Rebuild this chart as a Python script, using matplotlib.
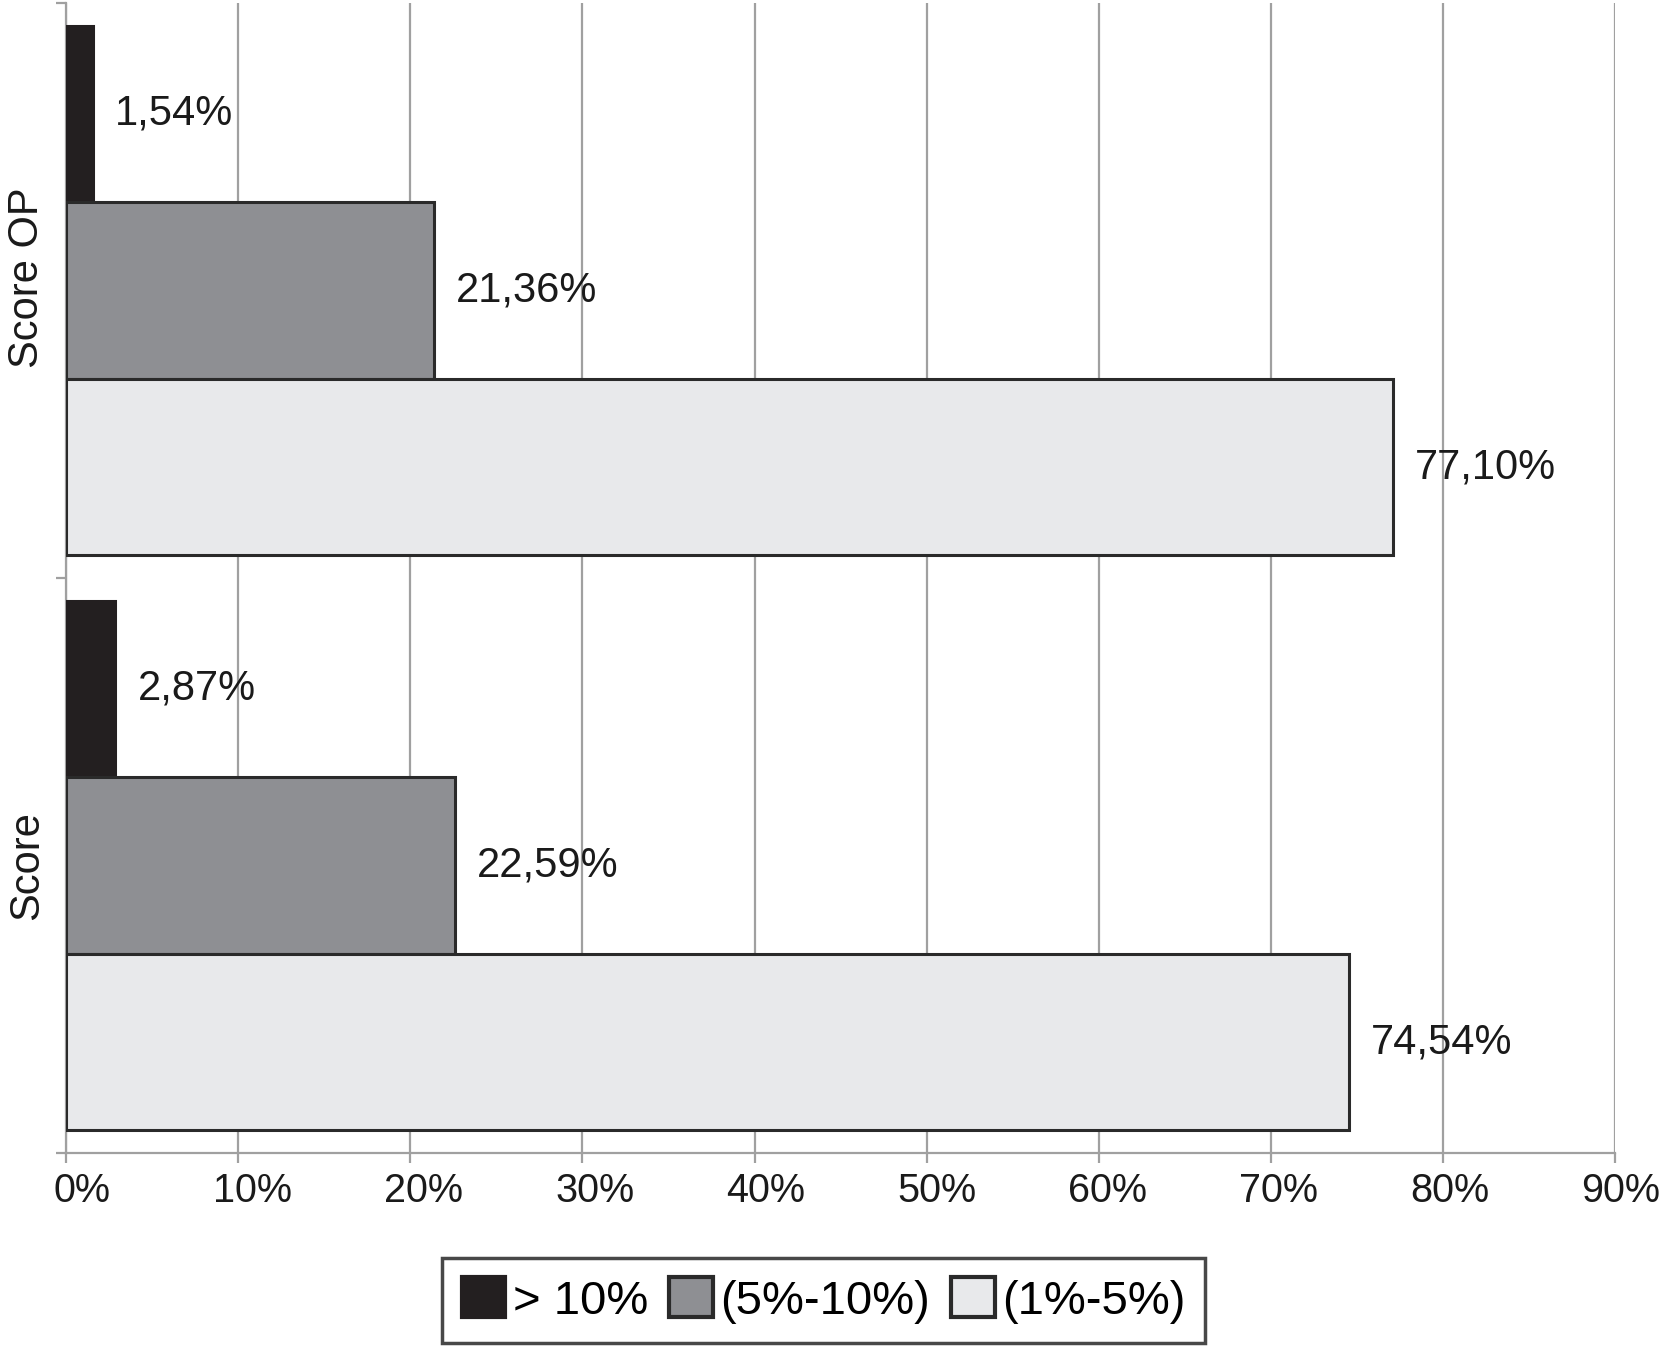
import matplotlib
matplotlib.use("Agg")
import matplotlib.pyplot as plt
import numpy as np
from matplotlib.patches import Patch
from matplotlib.transforms import ScaledTranslation

plt.rcParams['font.family'] = ['Liberation Sans', 'DejaVu Sans']

categories = ["Score", "Score OP"]
series_names = ["> 10%", "(5%-10%)", "(1%-5%)"]
values_gt10 = [2.87, 1.54]
values_5_10 = [22.59, 21.36]
values_1_5 = [74.54, 77.10]
x_ticks = [0, 10, 20, 30, 40, 50, 60, 70, 80, 90]
x_tick_labels = ["0%", "10%", "20%", "30%", "40%", "50%", "60%", "70%", "80%", "90%"]

series_values = [values_gt10, values_5_10, values_1_5]
face_colors = ["#231f20", "#8e8f93", "#e8e9eb"]
edge_colors = ["#231f20", "#2a2a2a", "#2a2a2a"]
bar_h = 0.307
offsets = [bar_h, 0.0, -bar_h]

fig = plt.figure(figsize=(16.64, 13.5), dpi=100)
ax = fig.add_axes([0.0397, 0.1459, 0.9309, 0.8519])

ypos = np.arange(len(categories))
for vals, fc, ec, off in zip(series_values, face_colors, edge_colors, offsets):
    ax.barh(ypos + off, vals, height=bar_h, color=fc, edgecolor=ec,
            linewidth=2.2, zorder=3)
    for v, yy in zip(vals, ypos + off):
        ax.annotate(f"{v:.2f}".replace('.', ',') + "%", (v, yy),
                    xytext=(16, 0), textcoords='offset points',
                    ha='left', va='center', fontsize=30, color='#1a1a1a')

ax.set_xlim(0, 90)
ax.set_ylim(-0.5, 1.5)
ax.set_xticks(x_ticks)
ax.set_xticklabels(x_tick_labels, fontsize=28.5, color='#1a1a1a')
ax.set_yticks(ypos)
ax.set_yticklabels(categories, fontsize=30, rotation=90, va='center', color='#1a1a1a')
ax.set_yticks([-0.5, 0.5, 1.5], minor=True)

grid_c = '#a0a0a0'
ax.xaxis.grid(True, color=grid_c, linewidth=1.6, zorder=0)
ax.set_axisbelow(True)
for s in ['top', 'right']:
    ax.spines[s].set_visible(False)
for s in ['left', 'bottom']:
    ax.spines[s].set_color(grid_c)
    ax.spines[s].set_linewidth(1.6)
ax.tick_params(axis='x', which='major', length=7, width=1.6, color=grid_c, pad=7)
ax.tick_params(axis='y', which='major', length=0, pad=14)
ax.tick_params(axis='y', which='minor', length=7, width=1.6, color=grid_c)

# labels in the original sit slightly right of their ticks
for i, lbl in enumerate(ax.get_xticklabels()):
    dx = (16 - 1.2 * i) / 100.0
    lbl.set_transform(lbl.get_transform() + ScaledTranslation(dx, 0, fig.dpi_scale_trans))
# the upper category label sits a little above its centre
ylbls = ax.get_yticklabels()
ylbls[1].set_transform(ylbls[1].get_transform() + ScaledTranslation(0, 0.13, fig.dpi_scale_trans))

handles = [Patch(facecolor=fc, edgecolor=('#231f20' if i == 0 else '#2a2a2a'), linewidth=3)
           for i, fc in enumerate(face_colors)]
leg = fig.legend(handles, series_names, loc='center', bbox_to_anchor=(0.4949, 0.0367),
                 ncol=3, fontsize=34, frameon=True, fancybox=False,
                 handlelength=0.93, handleheight=0.92, handletextpad=0.15,
                 columnspacing=0.45, borderpad=0.42, borderaxespad=0)
leg.get_frame().set_edgecolor('#1a1a1a')
leg.get_frame().set_linewidth(2.5)

fig.savefig("out.png", dpi=100)
